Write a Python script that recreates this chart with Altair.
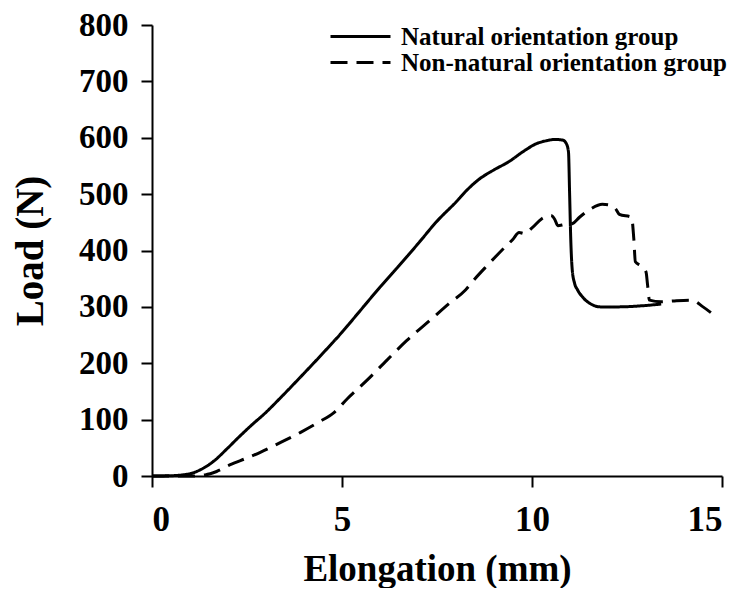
import altair as alt
import pandas as pd

# Natural orientation group (solid)
nat_x = [0, 0.5, 0.8, 1.0, 1.3, 1.6, 2.0, 2.24, 2.6, 3.0, 3.4, 3.9, 4.5, 5.0, 5.5, 6.0, 6.5, 7.0, 7.5, 8.0,
         8.3, 8.6, 9.0, 9.4, 9.8, 10.1, 10.4, 10.6, 10.8, 10.9, 10.96, 10.99, 11.02, 11.06, 11.12, 11.2,
         11.35, 11.55, 11.8, 12.3, 12.9, 13.4]
nat_y = [0, 0.5, 2, 4, 12, 25, 50, 66, 89, 113, 140, 175, 218, 255, 295, 335, 373, 412, 452, 486,
         508, 526, 543, 558, 577, 589, 595, 597, 596, 590, 575, 500, 420, 365, 342, 330,
         316, 305, 300, 300, 302, 305]

# Non-natural orientation group (dashed)
non_x = [0, 1.0, 1.4, 1.7, 2.06, 2.5, 2.85, 3.4, 3.9, 4.4, 4.78, 5.14, 5.66, 6.19, 6.7, 7.33, 7.8, 8.25,
         8.5, 8.83, 9.2, 9.5, 9.66, 9.8, 10.0, 10.25, 10.5, 10.6, 10.68, 10.85, 11.07, 11.25, 11.55,
         11.85, 12.1, 12.2, 12.3, 12.62, 12.68, 12.72, 12.86, 13.0, 13.04, 13.09, 13.4, 13.8, 14.2,
         14.5, 14.8]
non_y = [0, 0, 2, 8, 20, 32, 42, 60, 77, 96, 112, 137, 170, 206, 240, 277, 305, 330,
         350, 374, 400, 420, 432, 430, 440, 456, 462, 455, 444, 446, 448, 459, 474,
         482, 480, 474, 464, 459, 420, 380, 373, 362, 340, 312, 309, 311, 312,
         300, 285]

groups = ["Natural orientation group", "Non-natural orientation group"]
x_ticks = [0, 5, 10, 15]
y_ticks = [0, 100, 200, 300, 400, 500, 600, 700, 800]

rows = []
for i, (xs, ys) in enumerate([(nat_x, nat_y), (non_x, non_y)]):
    for k, (a, b) in enumerate(zip(xs, ys)):
        rows.append({"x": a, "y": b, "group": groups[i], "order": k})
df = pd.DataFrame(rows)

FONT = "Liberation Serif"

chart = alt.Chart(df).mark_line(color="black", strokeWidth=3, interpolate="monotone").encode(
    x=alt.X("x:Q", scale=alt.Scale(domain=[0, 15], nice=False, zero=False),
            axis=alt.Axis(title="Elongation (mm)", values=x_ticks, format="d",
                          labelFontSize=35, titleFontSize=37, tickSize=11, labelPadding=15,
                          titleY=104, titleBaseline="alphabetic")),
    y=alt.Y("y:Q", scale=alt.Scale(domain=[0, 800], nice=False),
            axis=alt.Axis(title="Load (N)", values=y_ticks, format="d",
                          labelFontSize=33, titleFontSize=39, tickSize=11, labelPadding=13,
                          titleX=-110, titleBaseline="alphabetic")),
    strokeDash=alt.StrokeDash("group:N",
                              scale=alt.Scale(domain=groups, range=[[1, 0], [17, 9]]),
                              legend=alt.Legend(title=None, orient="none", legendX=196, legendY=-1,
                                                symbolType="M-3,0H3", symbolSize=400,
                                                symbolStrokeWidth=3, symbolStrokeColor="black",
                                                symbolFillColor="transparent",
                                                labelFont=FONT, labelFontSize=25, labelFontWeight="bold",
                                                labelColor="black", labelOffset=28, padding=0,
                                                rowPadding=-2, labelLimit=400)),
    order="order:Q",
).properties(
    width=570, height=451,
    autosize=alt.AutoSizeParams(type="none"),
    padding={"left": 144, "top": 17, "right": 14, "bottom": 112},
    background="white",
).configure_axis(
    labelFont=FONT, titleFont=FONT, labelFontWeight="bold", titleFontWeight="bold",
    labelColor="black", titleColor="black", domainColor="black", tickColor="black",
    domainWidth=2, tickWidth=2, grid=False,
).configure_view(stroke=None)

chart.save("out.html", embed_options={"renderer": "svg", "actions": False})
